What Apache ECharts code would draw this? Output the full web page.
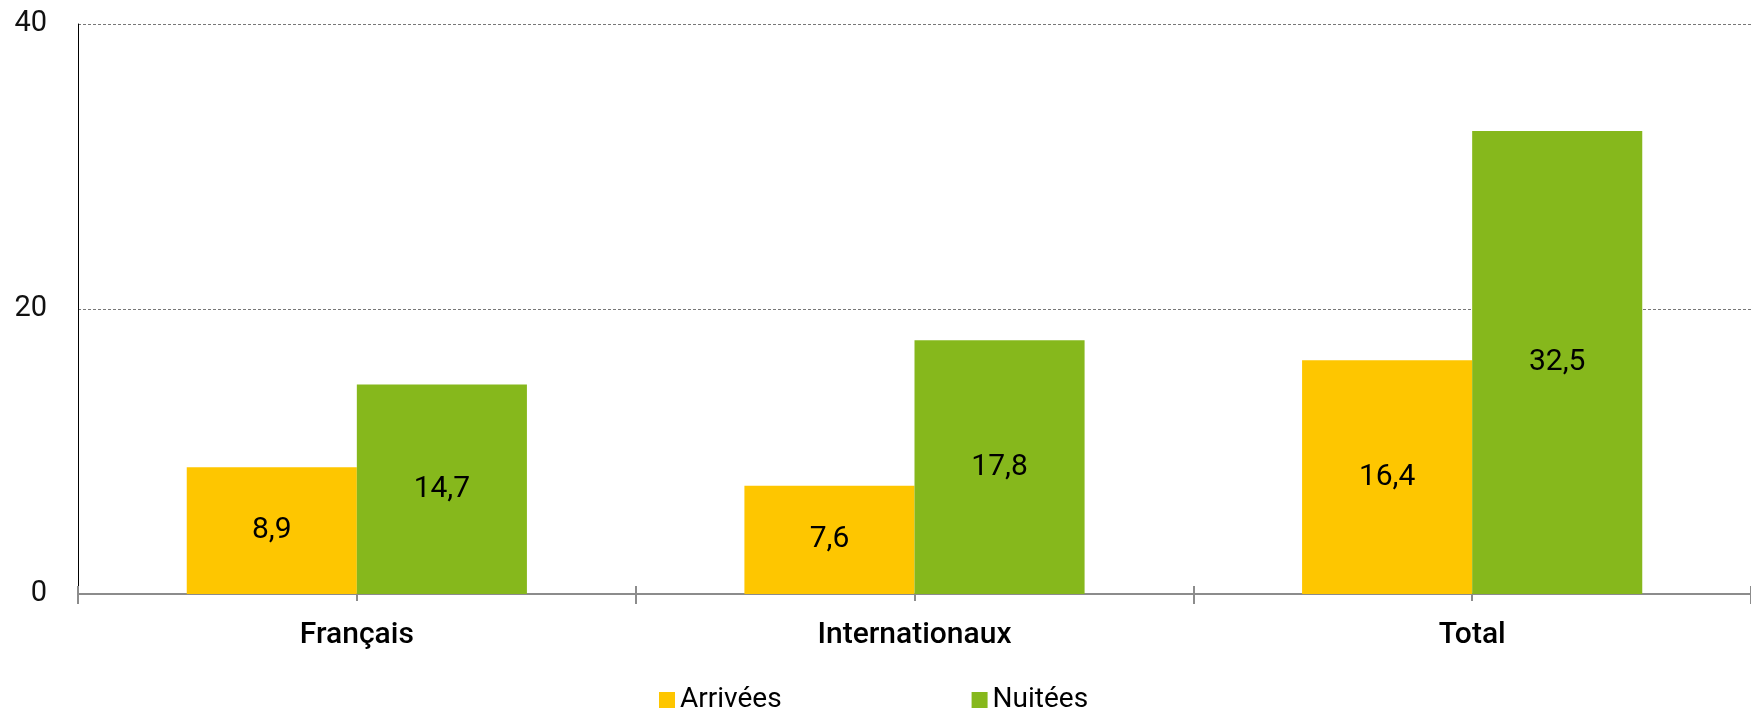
<!DOCTYPE html>
<html>
<head>
<meta charset="utf-8">
<script src="https://cdn.jsdelivr.net/npm/echarts@6/dist/echarts.min.js"></script>
<style>
  html, body { margin: 0; padding: 0; background: #fff; }
  #main { width: 1751px; height: 709px; }
</style>
</head>
<body>
<div id="main"></div>
<script>
// data
const categories = ["Français", "Internationaux", "Total"];
const arrivees = [8.9, 7.6, 16.4];
const nuitees = [14.7, 17.8, 32.5];
const yTicks = [0, 20, 40];

const font = "Roboto";
const fmt = (p) => String(p.value).replace(".", ",");

const chart = echarts.init(document.getElementById("main"));
const option = {
  animation: false,
  textStyle: { fontFamily: font, color: "#000" },
  grid: { left: 78, right: 0, top: 24, bottom: 115 },
  legend: {
    top: 681,
    left: 654,
    itemWidth: 16,
    itemHeight: 16,
    itemGap: 190,
    icon: "rect",
    textStyle: { fontFamily: font, fontSize: 28, color: "#000" },
    data: ["Arrivées", "Nuitées"],
  },
  xAxis: [
    {
      type: "category",
      data: categories,
      axisLine: { show: true, lineStyle: { color: "#8c8c8c", width: 2 } },
      axisTick: { show: true, length: 10, lineStyle: { color: "#8c8c8c", width: 2 } },
      axisLabel: { fontFamily: font, fontSize: 30, fontWeight: 500, color: "#000", margin: 26 },
    },
    {
      type: "category",
      data: categories,
      position: "bottom",
      axisLine: { show: false },
      axisTick: { show: true, inside: true, length: 8, lineStyle: { color: "#8c8c8c", width: 2 } },
      axisLabel: { show: false },
    },
    {
      type: "category",
      data: categories,
      position: "bottom",
      axisLine: { show: false },
      axisTick: { show: true, alignWithLabel: true, length: 7, lineStyle: { color: "#8c8c8c", width: 2 } },
      axisLabel: { show: false },
    },
  ],
  yAxis: {
    type: "value",
    min: yTicks[0],
    max: yTicks[yTicks.length - 1],
    interval: 20,
    axisLine: { show: true, lineStyle: { color: "#000", width: 1 } },
    axisTick: { show: false },
    axisLabel: { fontFamily: font, fontSize: 29, color: "#111", margin: 31 },
    splitLine: { show: true, lineStyle: { color: "#777", type: [3, 2], width: 1 } },
  },
  series: [
    {
      name: "Arrivées",
      type: "bar",
      data: arrivees,
      barGap: "0%",
      barCategoryGap: "39%",
      itemStyle: { color: "#FEC600" },
      label: { show: true, position: "inside", fontFamily: font, fontSize: 30, color: "#000", formatter: fmt },
    },
    {
      name: "Nuitées",
      type: "bar",
      data: nuitees,
      barGap: "0%",
      barCategoryGap: "39%",
      itemStyle: { color: "#86B81C" },
      label: { show: true, position: "inside", fontFamily: font, fontSize: 30, color: "#000", formatter: fmt },
    },
  ],
};
chart.setOption(option);
</script>
</body>
</html>
